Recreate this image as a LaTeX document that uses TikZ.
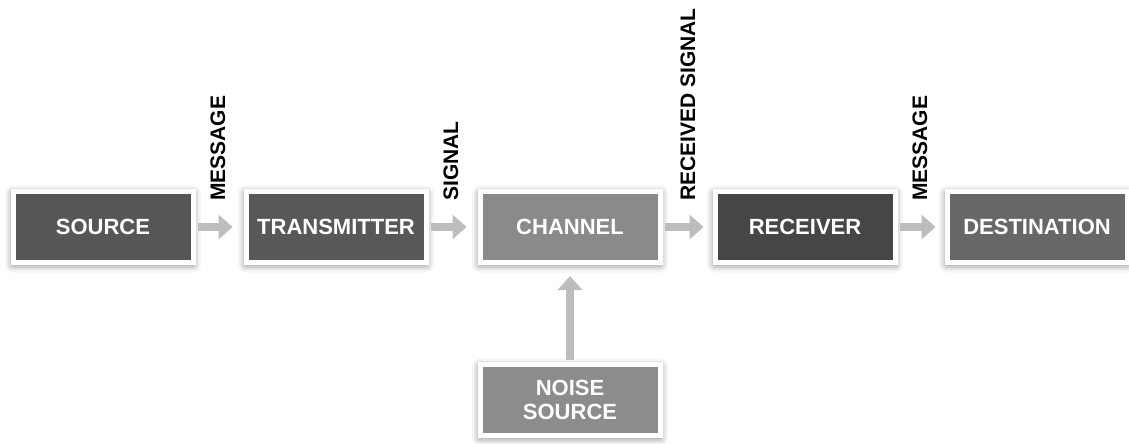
\documentclass[tikz,border=0pt]{standalone}
\usepackage{fontspec}
\setmainfont{Liberation Sans}
\usetikzlibrary{arrows.meta,shadows.blur}

\definecolor{flowgray}{HTML}{BDBDBD}
\definecolor{srcfill}{HTML}{565656}
\definecolor{txfill}{HTML}{585858}
\definecolor{chfill}{HTML}{8A8A8A}
\definecolor{rxfill}{HTML}{464646}
\definecolor{dstfill}{HTML}{676767}
\definecolor{noisefill}{HTML}{8C8C8C}

\begin{document}
\begin{tikzpicture}[x=1pt,y=-1pt,
  block/.style={draw=white, line width=5pt, minimum width=180pt,
    minimum height=71pt, inner sep=0pt, text=white, align=center,
    font=\bfseries\fontsize{22}{24}\selectfont,
    blur shadow={shadow xshift=0pt, shadow yshift=-2pt,
      shadow blur radius=8pt, shadow opacity=60}},
  flow/.style={draw=flowgray, line width=8pt,
    -{Triangle[length=14pt,width=24pt]}, shorten <=2pt},
  tag/.style={fill=white, rotate=90, anchor=west, inner sep=2pt,
    font=\bfseries\fontsize{21}{21}\selectfont}]

  \useasboundingbox (0,0) rectangle (1129,444);

  % main chain of blocks
  \node[block, fill=srcfill]   (src)   at (103,227)  {SOURCE};
  \node[block, fill=txfill]    (tx)    at (336,227)  {TRANSMITTER};
  \node[block, fill=chfill]    (ch)    at (570,227)  {CHANNEL};
  \node[block, fill=rxfill]    (rx)    at (805,227)  {RECEIVER};
  \node[block, fill=dstfill]   (dst)   at (1037,227) {DESTINATION};
  \node[block, fill=noisefill] (noise) at (570,400)  {NOISE\\SOURCE};

  % connectors
  \draw[flow, shorten >=11pt] (src.east) -- (tx.west);
  \draw[flow, shorten >=11pt] (tx.east) -- (ch.west);
  \draw[flow, shorten >=9pt]  (ch.east) -- (rx.west);
  \draw[flow, shorten >=9pt]  (rx.east) -- (dst.west);
  \draw[flow, shorten >=11pt] (noise.north) -- (ch.south);

  % rotated signal labels
  \node[tag] (lmsg1) at (218,203) {MESSAGE};
  \node[tag] (lsig)  at (451,203) {SIGNAL};
  \node[tag] (lrsig) at (688,203) {RECEIVED SIGNAL};
  \node[tag] (lmsg2) at (920,203) {MESSAGE};
\end{tikzpicture}
\end{document}
